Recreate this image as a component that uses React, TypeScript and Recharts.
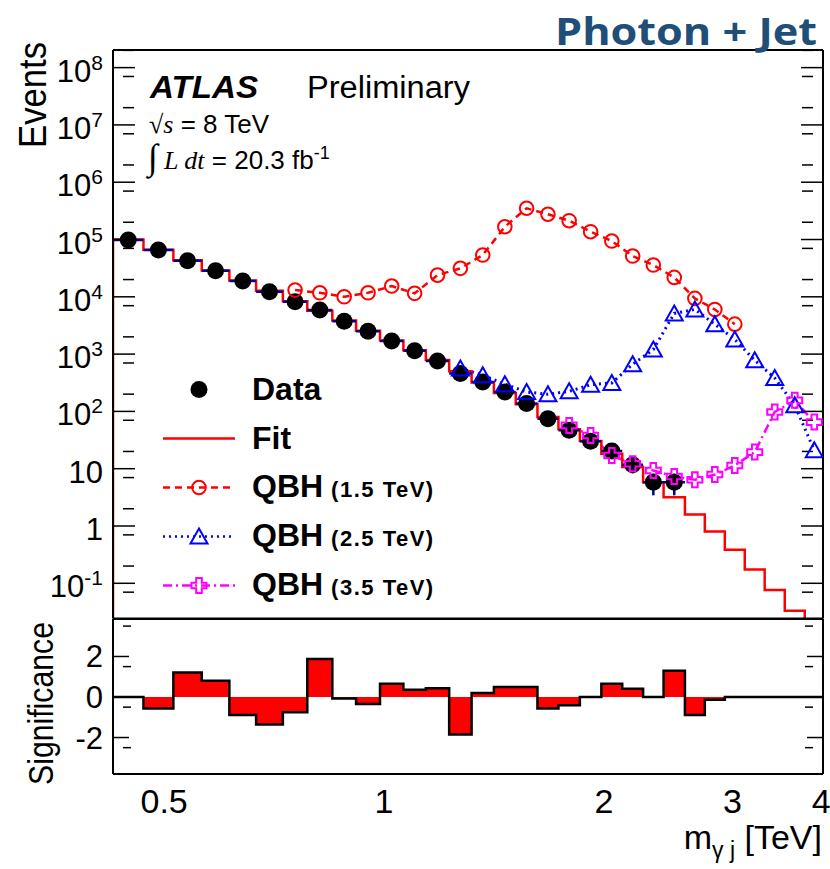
import React from 'react';
import { ComposedChart, Line, Scatter, Area, XAxis, YAxis, ErrorBar, Legend } from 'recharts';

// ---------------- data ----------------
// mass bin edges [TeV]
const binEdges = [0.4256, 0.4685, 0.5148, 0.563, 0.6142, 0.6682, 0.727, 0.7852, 0.8497, 0.9157, 0.9875,
  1.063, 1.141, 1.228, 1.318, 1.414, 1.515, 1.622, 1.733, 1.854, 1.984, 2.119, 2.263, 2.414, 2.582,
  2.749, 2.928, 3.118, 3.32, 3.537, 3.767, 4.0];

// observed events (bins 0..23)
const dataEvents = [98000, 65500, 42600, 28500, 18800, 12200, 8180, 5860, 3760, 2510, 1700, 1140, 760,
  458, 326, 218, 137, 74.8, 46.8, 30, 20.3, 11.7, 5.83, 5.83];
const dataErrors = [313, 256, 206, 169, 137, 110, 90, 77, 61, 50, 41, 34, 28, 21, 18, 15, 12, 8.6, 6.8,
  5.5, 4.5, 3.4, 2.4, 2.4];

// fit (bins 0..30)
const fitEvents = [100000, 66000, 43500, 28800, 19200, 12700, 8400, 5700, 3850, 2560, 1730, 1170, 790, 500,
  320, 210, 133, 80, 49, 30.4, 18.3, 10.7, 5.8, 3.19, 1.59, 0.8, 0.384, 0.174, 0.0767, 0.0333, 0.014];
const FIT_FLOOR = 0.001;

// QBH signals
const qbh15First = 6;
const qbh15 = [13100, 11750, 10000, 11750, 15400, 11500, 23900, 31400, 53600, 167000, 351000, 276000,
  213000, 137000, 94100, 51500, 35800, 21800, 9380, 6020, 3330];
const qbh25First = 13;
const qbh25 = [560, 428, 298, 218, 199, 224, 292, 314, 666, 1200, 5130, 6020, 3330, 1800, 782, 382, 128, 20.9];
const qbh35First = 18;
const qbh35 = [57, 38, 17, 12.2, 9.3, 7.3, 6.4, 7.9, 11.4, 19.5, 97.7, 156, 65];

// significance (bins 0..30)
const sigValues = [0, -0.57, 1.21, 0.8, -0.89, -1.36, -0.75, 1.87, -0.07, -0.34, 0.66, 0.36, 0.43, -1.85,
  0.2, 0.49, 0.49, -0.57, -0.41, 0, 0.66, 0.41, 0, 1.3, -0.89, -0.13, 0, 0, 0, 0, 0];

// axes
const xDomain = [0.4256, 3.99];
const yDomain = [0.0243, 2.03e8];
const sigDomain = [-3.8, 3.85];
const xMajorTicks = [1];
const xMinorTicks = [0.5, 0.6, 0.7, 0.8, 0.9, 2, 3];
const xLabelTicks = [0.5, 1, 2, 3, 4];
const xLabelTexts = ['0.5', '1', '2', '3', '4'];
const yTickValues = [0.1, 1, 10, 100, 1e3, 1e4, 1e5, 1e6, 1e7, 1e8];
const yTickLabels = ['10^-1', '1', '10', '10^2', '10^3', '10^4', '10^5', '10^6', '10^7', '10^8'];
const yMinorTicks: number[] = [];
for (let d = -2; d <= 8; d++) {
  for (let k = 2; k <= 9; k++) {
    const t = k * Math.pow(10, d);
    if (t > yDomain[0] && t < yDomain[1]) yMinorTicks.push(t);
  }
}
const sigMajorTicks = [-2, 0, 2];
const sigLabelTexts = ['-2', '0', '2'];
const sigMinorTicks = [-3.5, -3, -2.5, -1.5, -1, -0.5, 0.5, 1, 1.5, 2.5, 3, 3.5];

// ---------------- rows ----------------
const center = (i: number) => Math.sqrt(binEdges[i] * binEdges[i + 1]);
const dataRows = dataEvents.map((v, i) => ({ m: center(i), v, ye: dataErrors[i] }));
const dataSpanRows = dataEvents.flatMap((v, i) => [
  { m: binEdges[i], v }, { m: binEdges[i + 1], v }, { m: binEdges[i + 1], v: null },
]);
const fitRows = [{ m: binEdges[0], v: FIT_FLOOR }, ...fitEvents.map((v, i) => ({ m: binEdges[i], v })),
  { m: binEdges[binEdges.length - 1], v: fitEvents[fitEvents.length - 1] }];
const sigRows = [...sigValues.map((s, i) => ({ m: binEdges[i], s })),
  { m: binEdges[binEdges.length - 1], s: sigValues[sigValues.length - 1] }];
const signalRows = (vals: number[], first: number) => vals.map((v, k) => ({ m: center(first + k), v }));
const qbh15Rows = signalRows(qbh15, qbh15First);
const qbh25Rows = signalRows(qbh25, qbh25First);
const qbh35Rows = signalRows(qbh35, qbh35First);

// ---------------- styles ----------------
const SANS = '"Liberation Sans", Arial, Helvetica, sans-serif';
const SERIF = '"Liberation Serif", "Times New Roman", serif';
const RED = '#ff0000';
const BLUE = '#0000ff';
const MAGENTA = '#ff00ff';
const NAVY = '#000099';

const circleShape = (cx: number, cy: number, key?: any) => (
  <circle key={key} cx={cx} cy={cy} r={6.8} fill="none" stroke={RED} strokeWidth={2} />
);
const triShape = (cx: number, cy: number, key?: any) => (
  <polygon key={key} points={`${cx},${cy - 8} ${cx + 8.5},${cy + 7} ${cx - 8.5},${cy + 7}`}
    fill="none" stroke={BLUE} strokeWidth={2} />
);
const crossShape = (cx: number, cy: number, key?: any) => {
  const a = 7.5, b = 2.8;
  const pts = [[-b, -a], [b, -a], [b, -b], [a, -b], [a, b], [b, b], [b, a], [-b, a], [-b, b], [-a, b], [-a, -b], [-b, -b]]
    .map(([x, y]) => `${cx + x},${cy + y}`).join(' ');
  return <polygon key={key} points={pts} fill="none" stroke={MAGENTA} strokeWidth={2} />;
};

const dotOf = (fn: any) => (p: any) => {
  if (p.cx == null || p.cy == null) return <g key={`n${p.index}`} />;
  return fn(p.cx, p.cy, `d${p.index}`);
};

const NoTick = () => null;

const EventsTick = (p: any) => {
  const idx = yTickValues.indexOf(p.payload.value);
  const [base, exp] = (yTickLabels[idx] || '').split('^');
  return (
    <text x={p.x} y={p.y + 14} textAnchor="end" fontFamily={SANS} fontSize={31} fill="#000">
      {base}
      {exp ? <tspan dy={-12} fontSize={21}>{exp}</tspan> : null}
    </text>
  );
};
const SigTick = (p: any) => {
  const idx = sigMajorTicks.indexOf(p.payload.value);
  return (
    <text x={p.x} y={p.y + 11} textAnchor="end" fontFamily={SANS} fontSize={31} fill="#000">
      {sigLabelTexts[idx]}
    </text>
  );
};
const MassTick = (p: any) => {
  const idx = xLabelTicks.indexOf(p.payload.value);
  const last = idx === xLabelTicks.length - 1;
  return (
    <text x={last ? p.x + 7 : p.x} y={p.y + 39} textAnchor={last ? 'end' : 'middle'} fontFamily={SANS}
      fontSize={34} fill="#000">
      {xLabelTexts[idx]}
    </text>
  );
};

const legendItems = [
  { main: 'Data', sub: '', kind: 'data' },
  { main: 'Fit', sub: '', kind: 'fit' },
  { main: 'QBH', sub: '(1.5 TeV)', kind: 'q15' },
  { main: 'QBH', sub: '(2.5 TeV)', kind: 'q25' },
  { main: 'QBH', sub: '(3.5 TeV)', kind: 'q35' },
];

const LegendBox = () => (
  <div style={{ fontFamily: SANS }}>
    {legendItems.map((it) => (
      <div key={it.kind + it.sub} style={{ display: 'flex', alignItems: 'center', height: 49 }}>
        <svg width={80} height={49} style={{ display: 'block' }}>
          {it.kind === 'data' && <circle cx={39} cy={24.5} r={8.5} fill="#000" />}
          {it.kind === 'fit' && <line x1={3} x2={75} y1={24.5} y2={24.5} stroke={RED} strokeWidth={2.5} />}
          {it.kind === 'q15' && <line x1={3} x2={75} y1={24.5} y2={24.5} stroke={RED} strokeWidth={2.5} strokeDasharray="7 5" />}
          {it.kind === 'q15' && circleShape(39, 24.5)}
          {it.kind === 'q25' && <line x1={3} x2={75} y1={24.5} y2={24.5} stroke={BLUE} strokeWidth={2.5} strokeDasharray="2 4" />}
          {it.kind === 'q25' && triShape(39, 24.5)}
          {it.kind === 'q35' && <line x1={3} x2={75} y1={24.5} y2={24.5} stroke={MAGENTA} strokeWidth={2.5} strokeDasharray="9 4 2 4" />}
          {it.kind === 'q35' && crossShape(39, 24.5)}
        </svg>
        <span style={{ marginLeft: 12, fontWeight: 'bold', fontSize: 32, lineHeight: '49px', color: '#000', whiteSpace: 'nowrap' }}>
          {it.main}
          {it.sub ? <span style={{ fontSize: 22, letterSpacing: 1.5, marginLeft: 8 }}>{it.sub}</span> : null}
        </span>
      </div>
    ))}
  </div>
);

const axisLine = { stroke: '#000', strokeWidth: 2 };
const tickLine = { stroke: '#000', strokeWidth: 1.5 };

export default function App() {
  return (
    <div style={{ position: 'absolute', left: 0, top: 0, width: 830, height: 869, background: '#fff', overflow: 'hidden' }}>
      {/* Top panel */}
      <div style={{ position: 'absolute', left: 0, top: 0 }}>
        <ComposedChart width={830} height={640} margin={{ top: 50, right: 7, bottom: 21.5, left: 0 }}>
          <XAxis xAxisId="x" dataKey="m" type="number" scale="log" domain={xDomain} allowDataOverflow hide />
          <XAxis xAxisId="xbM" type="number" scale="log" domain={xDomain} allowDataOverflow orientation="bottom" mirror
            ticks={xMajorTicks} tickSize={16} tick={<NoTick />} axisLine={axisLine} tickLine={tickLine} />
          <XAxis xAxisId="xbm" type="number" scale="log" domain={xDomain} allowDataOverflow orientation="bottom" mirror
            ticks={xMinorTicks} tickSize={9} tick={<NoTick />} axisLine={false} tickLine={tickLine} />
          <XAxis xAxisId="xtM" type="number" scale="log" domain={xDomain} allowDataOverflow orientation="top" mirror
            ticks={xMajorTicks} tickSize={16} tick={<NoTick />} axisLine={axisLine} tickLine={tickLine} />
          <XAxis xAxisId="xtm" type="number" scale="log" domain={xDomain} allowDataOverflow orientation="top" mirror
            ticks={xMinorTicks} tickSize={9} tick={<NoTick />} axisLine={false} tickLine={tickLine} />
          <YAxis yAxisId="y" dataKey="v" type="number" scale="log" domain={yDomain} allowDataOverflow width={113}
            ticks={yTickValues} tickSize={0} tickMargin={10} tick={<EventsTick />} axisLine={false} tickLine={false} />
          <YAxis yAxisId="ylM" type="number" scale="log" domain={yDomain} allowDataOverflow mirror width={10}
            ticks={yTickValues} tickSize={22} tick={<NoTick />} axisLine={axisLine} tickLine={tickLine} />
          <YAxis yAxisId="ylm" type="number" scale="log" domain={yDomain} allowDataOverflow mirror width={10}
            ticks={yMinorTicks} tickSize={11} tick={<NoTick />} axisLine={false} tickLine={tickLine} />
          <YAxis yAxisId="yrM" type="number" scale="log" domain={yDomain} allowDataOverflow mirror orientation="right" width={10}
            ticks={yTickValues} tickSize={22} tick={<NoTick />} axisLine={axisLine} tickLine={tickLine} />
          <YAxis yAxisId="yrm" type="number" scale="log" domain={yDomain} allowDataOverflow mirror orientation="right" width={10}
            ticks={yMinorTicks} tickSize={11} tick={<NoTick />} axisLine={false} tickLine={tickLine} />

          <Line xAxisId="x" yAxisId="y" data={qbh15Rows} dataKey="v" name="QBH (1.5 TeV)" type="linear" stroke={RED}
            strokeWidth={2.5} strokeDasharray="7 5" dot={dotOf(circleShape)} activeDot={false} isAnimationActive={false} />
          <Line xAxisId="x" yAxisId="y" data={qbh25Rows} dataKey="v" name="QBH (2.5 TeV)" type="linear" stroke={BLUE}
            strokeWidth={3} strokeDasharray="2 4" dot={dotOf(triShape)} activeDot={false} isAnimationActive={false} />
          <Line xAxisId="x" yAxisId="y" data={qbh35Rows} dataKey="v" name="QBH (3.5 TeV)" type="linear" stroke={MAGENTA}
            strokeWidth={2.5} strokeDasharray="9 4 2 4" dot={dotOf(crossShape)} activeDot={false} isAnimationActive={false} />
          <Line xAxisId="x" yAxisId="y" data={fitRows} dataKey="v" name="Fit" type="stepAfter" stroke={RED}
            strokeWidth={2.5} dot={false} activeDot={false} isAnimationActive={false} />
          <Line xAxisId="x" yAxisId="y" data={dataSpanRows} dataKey="v" name="Data bins" type="linear" stroke={NAVY}
            strokeWidth={2.5} connectNulls={false} dot={false} activeDot={false} legendType="none" isAnimationActive={false} />
          <Scatter xAxisId="x" yAxisId="y" data={dataRows} dataKey="v" name="Data" fill="#000" isAnimationActive={false}
            shape={(p: any) => <circle cx={p.cx} cy={p.cy} r={8.5} fill="#000" />}>
            <ErrorBar dataKey="ye" direction="y" width={0} stroke={NAVY} strokeWidth={2.5} />
          </Scatter>
          <Legend layout="vertical" align="center" verticalAlign="middle" content={() => <LegendBox />}
            wrapperStyle={{ left: 160, top: 365, width: 330, height: 250 }} />
        </ComposedChart>
      </div>

      {/* Bottom panel */}
      <div style={{ position: 'absolute', left: 0, top: 600 }}>
        <ComposedChart width={830} height={269} margin={{ top: 19, right: 7, bottom: 55, left: 0 }}>
          <XAxis xAxisId="x" dataKey="m" type="number" scale="log" domain={xDomain} allowDataOverflow height={40}
            ticks={xLabelTicks} tickSize={0} tickMargin={0} tick={<MassTick />} axisLine={false} tickLine={false} />
          <XAxis xAxisId="xbM" type="number" scale="log" domain={xDomain} allowDataOverflow orientation="bottom" mirror
            ticks={xMajorTicks} tickSize={16} tick={<NoTick />} axisLine={axisLine} tickLine={tickLine} />
          <XAxis xAxisId="xbm" type="number" scale="log" domain={xDomain} allowDataOverflow orientation="bottom" mirror
            ticks={xMinorTicks} tickSize={8} tick={<NoTick />} axisLine={false} tickLine={tickLine} />
          <XAxis xAxisId="xtM" type="number" scale="log" domain={xDomain} allowDataOverflow orientation="top" mirror
            ticks={xMajorTicks} tickSize={16} tick={<NoTick />} axisLine={axisLine} tickLine={tickLine} />
          <XAxis xAxisId="xtm" type="number" scale="log" domain={xDomain} allowDataOverflow orientation="top" mirror
            ticks={xMinorTicks} tickSize={8} tick={<NoTick />} axisLine={false} tickLine={tickLine} />
          <YAxis yAxisId="y" dataKey="s" type="number" domain={sigDomain} allowDataOverflow width={113}
            ticks={sigMajorTicks} tickSize={0} tickMargin={10} tick={<SigTick />} axisLine={false} tickLine={false} />
          <YAxis yAxisId="ylM" type="number" domain={sigDomain} allowDataOverflow mirror width={10}
            ticks={sigMajorTicks} tickSize={16} tick={<NoTick />} axisLine={axisLine} tickLine={tickLine} />
          <YAxis yAxisId="ylm" type="number" domain={sigDomain} allowDataOverflow mirror width={10}
            ticks={sigMinorTicks} tickSize={8} tick={<NoTick />} axisLine={false} tickLine={tickLine} />
          <YAxis yAxisId="yrM" type="number" domain={sigDomain} allowDataOverflow mirror orientation="right" width={10}
            ticks={sigMajorTicks} tickSize={16} tick={<NoTick />} axisLine={axisLine} tickLine={tickLine} />
          <YAxis yAxisId="yrm" type="number" domain={sigDomain} allowDataOverflow mirror orientation="right" width={10}
            ticks={sigMinorTicks} tickSize={8} tick={<NoTick />} axisLine={false} tickLine={tickLine} />
          <Area xAxisId="x" yAxisId="y" data={sigRows} dataKey="s" type="stepAfter" baseValue={0}
            fill={RED} fillOpacity={1} stroke="#000" strokeWidth={2.5} dot={false} activeDot={false}
            isAnimationActive={false} />
        </ComposedChart>
      </div>

      {/* Text overlay */}
      <svg width={830} height={869} style={{ position: 'absolute', left: 0, top: 0, pointerEvents: 'none' }}>
        <text x={555} y={45} fontFamily='"Open Sans", "Noto Sans", sans-serif' fontWeight="bold" fontSize={38}
          fill="#1F4E79" textLength={262} lengthAdjust="spacingAndGlyphs">Photon + Jet</text>
        <text x={150} y={98} fontFamily={SANS} fontWeight="bold" fontStyle="italic" fontSize={31}
          textLength={108} lengthAdjust="spacingAndGlyphs">ATLAS</text>
        <text x={307} y={98} fontFamily={SANS} fontSize={31} textLength={163} lengthAdjust="spacingAndGlyphs">Preliminary</text>
        <text x={149} y={133} fontFamily={SANS} fontSize={26}>
          <tspan fontFamily={SERIF}>√</tspan><tspan fontFamily={SERIF} fontStyle="italic">s</tspan> = 8 TeV
        </text>
        <text x={148} y={169} fontFamily={SANS} fontSize={26}>
          <tspan fontFamily={SERIF} fontSize={36}>∫</tspan>
          <tspan fontFamily={SERIF} fontStyle="italic" dx={6}>L dt</tspan> = 20.3 fb<tspan dy={-10} fontSize={18}>-1</tspan>
        </text>
        <text transform="translate(46,42) rotate(-90)" textAnchor="end" fontFamily={SANS} fontSize={38}
          textLength={106} lengthAdjust="spacingAndGlyphs">Events</text>
        <text transform="translate(53,622) rotate(-90)" textAnchor="end" fontFamily={SANS} fontSize={35}
          textLength={163} lengthAdjust="spacingAndGlyphs">Significance</text>
        <text x={822} y={849} textAnchor="end" fontFamily={SANS} fontSize={34}>
          m<tspan dy={9} fontSize={23}>γ j</tspan><tspan dy={-9}> [TeV]</tspan>
        </text>
      </svg>
    </div>
  );
}
